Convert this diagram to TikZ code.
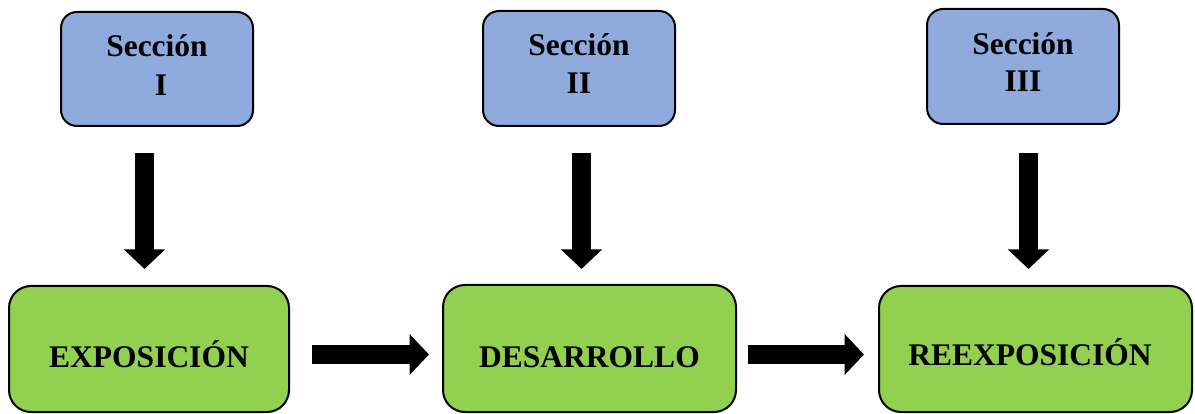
\documentclass[tikz,border=0pt]{standalone}
\usepackage{fontspec}
\setmainfont{Liberation Serif}
\usetikzlibrary{arrows.meta}
\definecolor{secblue}{HTML}{8FAADC}
\definecolor{partgreen}{HTML}{92D050}
\tikzset{
  secbox/.style={draw=black, line width=2pt, fill=secblue, rounded corners=16pt},
  partbox/.style={draw=black, line width=2pt, fill=partgreen, rounded corners=22pt},
  lbl/.style={anchor=base, inner sep=0pt, font=\fontsize{31.5pt}{38pt}\selectfont\bfseries},
  bigarrow/.style={line width=19pt, -{Triangle[length=19.5pt,width=40pt]}, line cap=butt}
}
\begin{document}
\begin{tikzpicture}[x=1pt,y=-1pt]
\useasboundingbox (0,0) rectangle (1195,414);
% section boxes
\draw[secbox] (61,12) rectangle (253,126);
\draw[secbox] (483,11) rectangle (675,126);
\draw[secbox] (927,9) rectangle (1119,124);
\node[lbl] (s1a) at (157,57) {Sección};
\node[lbl] (s1b) at (161,96) {I};
\node[lbl] (s2a) at (579,56) {Sección};
\node[lbl] (s2b) at (579,94) {II};
\node[lbl] (s3a) at (1023,55) {Sección};
\node[lbl] (s3b) at (1023,92) {III};
% part boxes
\draw[partbox] (9,286) rectangle (289,412);
\draw[partbox] (443,285) rectangle (736,412);
\draw[partbox] (879,286) rectangle (1192,412);
\node[lbl] (p1) at (149,367) {EXPOSICIÓN};
\node[lbl] (p2) at (589.5,367) {DESARROLLO};
\node[lbl] (p3) at (1030,365) {REEXPOSICIÓN};
% arrow end points
\coordinate (d1s) at (144.5,153); \coordinate (d1e) at (144.5,269);
\coordinate (d2s) at (581.5,153); \coordinate (d2e) at (581.5,269);
\coordinate (d3s) at (1028.5,153); \coordinate (d3e) at (1028.5,269);
\coordinate (h1s) at (312,354.5); \coordinate (h1e) at (429,354.5);
\coordinate (h2s) at (748,354.5); \coordinate (h2e) at (864,354.5);
\draw[bigarrow] (d1s) -- (d1e);
\draw[bigarrow] (d2s) -- (d2e);
\draw[bigarrow] (d3s) -- (d3e);
\draw[bigarrow] (h1s) -- (h1e);
\draw[bigarrow] (h2s) -- (h2e);
\end{tikzpicture}
\end{document}
